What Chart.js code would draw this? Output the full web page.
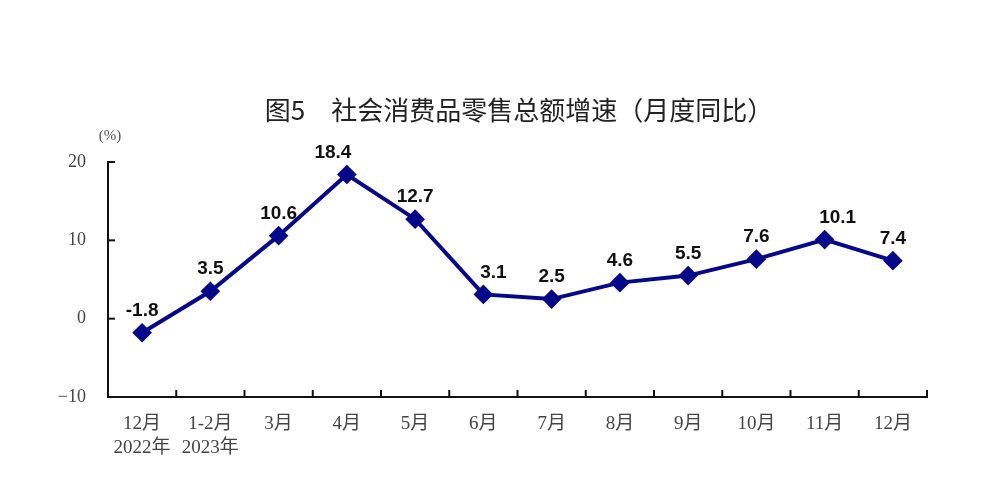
<!DOCTYPE html>
<html>
<head>
<meta charset="utf-8">
<script src="https://cdn.jsdelivr.net/npm/chart.js@4.4.0/dist/chart.umd.min.js"></script>
<style>
  html, body { margin: 0; padding: 0; background: #fff; }
  #wrap { width: 997px; height: 502px; }
</style>
</head>
<body>
<div id="wrap"><canvas id="myChart"></canvas></div>
<script>
const months = [["12月", "2022年"], ["1-2月", "2023年"], "3月", "4月", "5月", "6月", "7月", "8月", "9月", "10月", "11月", "12月"];
const growth = [-1.8, 3.5, 10.6, 18.4, 12.7, 3.1, 2.5, 4.6, 5.5, 7.6, 10.1, 7.4];
const yTicks = [-10, 0, 10, 20];
const titleText = "图5　社会消费品零售总额增速（月度同比）";
const unitText = "(%)";

// 标签微调(像原图那样有几个略偏)
const labelShift = { 3: -14, 5: 10, 10: 13 };

const extras = {
  id: 'extras',
  afterDraw(chart) {
    const ctx = chart.ctx;
    const x = chart.scales.x, y = chart.scales.y;
    const area = chart.chartArea;
    ctx.save();
    // 朝内的刻度线
    ctx.strokeStyle = '#111';
    ctx.lineWidth = 2;
    yTicks.forEach(v => {
      const py = y.getPixelForValue(v);
      ctx.beginPath(); ctx.moveTo(area.left, py); ctx.lineTo(area.left + 7, py); ctx.stroke();
    });
    const half = (x.getPixelForValue(1) - x.getPixelForValue(0)) / 2;
    for (let i = 0; i < months.length; i++) {
      const px = x.getPixelForValue(i) + half;
      ctx.beginPath(); ctx.moveTo(px, area.bottom); ctx.lineTo(px, area.bottom - 7); ctx.stroke();
    }

    ctx.textAlign = 'center';
    ctx.textBaseline = 'middle';
    ctx.fillStyle = '#222';
    ctx.font = '26px "Noto Sans CJK SC"';
    ctx.fillText(titleText, 519, 110);

    ctx.fillStyle = '#555';
    ctx.font = '15px "Liberation Serif"';
    ctx.fillText(unitText, area.left + 2, 136);

    ctx.fillStyle = '#111';
    ctx.font = 'bold 19px "Liberation Sans"';
    chart.getDatasetMeta(0).data.forEach((p, i) => {
      ctx.fillText(growth[i].toFixed(1), p.x + (labelShift[i] || 0), p.y - 22);
    });
    ctx.restore();
  }
};

new Chart(document.getElementById('myChart'), {
  type: 'line',
  data: {
    labels: months,
    datasets: [{
      data: growth,
      borderColor: '#06088a',
      backgroundColor: '#06088a',
      borderWidth: 4,
      pointStyle: 'rectRot',
      pointRadius: 7,
      pointHoverRadius: 7,
      tension: 0
    }]
  },
  options: {
    responsive: true,
    maintainAspectRatio: false,
    animation: false,
    events: [],
    layout: { padding: { left: 0, right: 70, top: 162, bottom: 0 } },
    plugins: { legend: { display: false }, tooltip: { enabled: false }, title: { display: false } },
    scales: {
      x: {
        offset: true,
        grid: { display: false, offset: true },
        border: { display: true, color: '#111', width: 2 },
        ticks: {
          color: '#444',
          font: { family: '"Liberation Serif", "Noto Sans CJK SC"', size: 19, lineHeight: 1.25 },
          padding: 7,
          maxRotation: 0,
          autoSkip: false
        },
        afterFit(scale) { scale.height = 105; }
      },
      y: {
        min: -10,
        max: 20,
        afterBuildTicks(scale) { scale.ticks = yTicks.map(v => ({ value: v })); },
        grid: { display: false },
        border: { display: true, color: '#111', width: 2 },
        ticks: {
          color: '#444',
          font: { family: '"Liberation Serif"', size: 18 },
          padding: 14,
          callback: v => String(v).replace('-', '−')
        },
        afterFit(scale) { scale.width = 108; }
      }
    }
  },
  plugins: [extras]
});
</script>
</body>
</html>
